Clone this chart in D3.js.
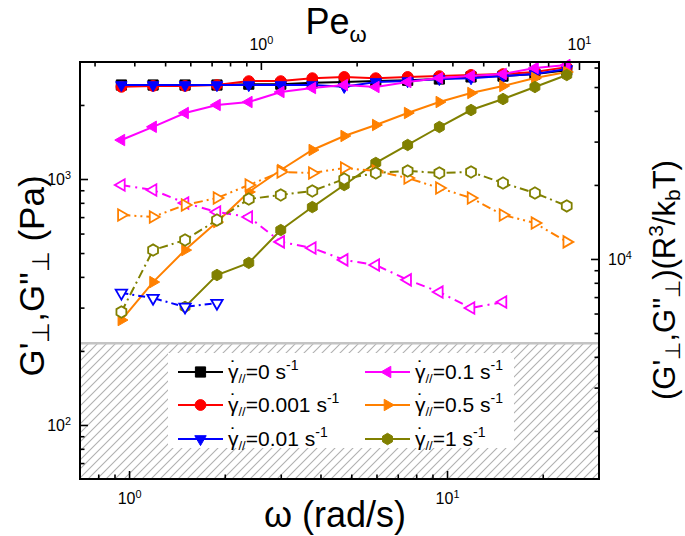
<!DOCTYPE html>
<html><head><meta charset="utf-8">
<script src="https://cdn.jsdelivr.net/npm/d3@7"></script>
<style>body{margin:0;background:#fff} text{font-family:"Liberation Sans",Arial,sans-serif;fill:#000}</style>
</head><body><svg id="c" width="685" height="536"></svg>
<script>
// ---------------- data ----------------
const omega = [0.946,1.19,1.50,1.89,2.38,3.00,3.77,4.75,5.97,7.52,9.46,11.9,15.0,18.9,23.8];
const rates = ["0","0.001","0.01","0.1","0.5","1"];
// storage modulus G' (filled symbols)
const Gp_0     = [2410,2410,2410,2410,2430,2430,2460,2480,2500,2520,2550,2600,2620,2670,2770];
const Gp_0001  = [2370,2390,2390,2410,2500,2500,2570,2600,2570,2600,2620,2650,2670,2720,2850];
const Gp_001   = [2410,2410,2410,2410,2410,2410,2410,2370,2480,2500,2550,2570,2620,2670,2800];
const Gp_01    = [1440,1630,1855,2000,2056,2258,2344,2411,2366,2479,2574,2623,2672,2827,2907];
const Gp_05    = [267,381,514,668,886,1088,1312,1496,1658,1855,2056,2237,2388,2574,2723];
const Gp_1     = [null,null,302,407,456,620,769,945,1162,1375,1627,1907,2114,2366,2647];
// loss modulus G'' (open symbols)
const Gpp_001  = [344,328,302,313,null,null,null,null,null,null,null,null,null,null,null];
const Gpp_01   = [945,902,799,734,701,555,524,469,447,389,347,299,316,null,null];
const Gpp_05   = [714,701,784,837,945,1068,1058,1108,1078,1009,919,837,714,662,555];
const Gpp_1    = [288,514,565,681,829,861,894,1000,1058,1078,1058,1068,963,877,777];
const limitG = 215;
const xMajor = [1,10], yMajor = [100,1000], yRMajor = [10000], peMajor = [1,10];

// ---------------- layout ----------------
const L=80,R=599,T=62,B=479;
const colors = ["#000000","#ff0000","#0000ff","#ff00ff","#ff8000","#808000"];
const shapes = ["square","circle","down","left","right","hex"];

const svg = d3.select("#c");
const x = d3.scaleLog().domain([0.701,30.06]).range([L,R]);
const xTop = d3.scaleLog().domain([0.270,11.56]).range([L,R]);
const y = d3.scaleLog().domain([60.3,2990]).range([B,T]);
const yR = d3.scaleLog().domain([1275,63200]).range([B,T]);

function minors(dom){
  const out=[]; const lo=Math.min(...dom), hi=Math.max(...dom);
  for(let e=Math.floor(Math.log10(lo));e<=Math.ceil(Math.log10(hi));e++)
    for(let k=2;k<=9;k++){const v=k*Math.pow(10,e); if(v>=lo*1.001&&v<=hi*0.999) out.push(v);}
  return out;
}
function markerPath(shape, r){
  const p=d3.path();
  if(shape==="square"){p.rect(-r*0.85,-r*0.85,r*1.7,r*1.7);}
  else if(shape==="circle"){p.arc(0,0,r*0.9,0,2*Math.PI);}
  else if(shape==="hex"){for(let i=0;i<6;i++){const a=Math.PI/6+i*Math.PI/3;const px=r*0.95*Math.cos(a),py=r*0.95*Math.sin(a); i?p.lineTo(px,py):p.moveTo(px,py);} }
  else {
    const ang={down:Math.PI/2,left:Math.PI,right:0}[shape];
    for(let i=0;i<3;i++){const a=ang+i*2*Math.PI/3;const px=r*1.1*Math.cos(a),py=r*1.1*Math.sin(a); i?p.lineTo(px,py):p.moveTo(px,py);}
  }
  p.closePath(); return p.toString();
}

// hatched region
const defs = svg.append("defs");
const pat = defs.append("pattern").attr("id","hatch").attr("patternUnits","userSpaceOnUse").attr("width",9).attr("height",9);
pat.append("path").attr("d","M-1,1 l2,-2 M0,9 l9,-9 M8,10 l2,-2").attr("stroke","#b0b0b0").attr("stroke-width",1.1);
svg.append("rect").attr("x",L).attr("y",y(limitG)).attr("width",R-L).attr("height",B-y(limitG)).attr("fill","url(#hatch)");
svg.append("line").attr("x1",L).attr("x2",R).attr("y1",y(limitG)).attr("y2",y(limitG)).attr("stroke","#c4c4c4").attr("stroke-width",2.5);

// series
const filled = [Gp_0,Gp_0001,Gp_001,Gp_01,Gp_05,Gp_1];
const open = [[Gpp_001,2,"7,4,2,4"],[Gpp_01,3,"9,5,2,5"],[Gpp_05,4,"9,4,2,4,2,4"],[Gpp_1,5,"9,4,2,4"]];
const line = d3.line().defined(d=>d[1]!=null).x(d=>x(d[0])).y(d=>y(d[1]));
const gData = svg.append("g");
filled.forEach((vals,i)=>{
  const pts = omega.map((w,j)=>[w,vals[j]]);
  gData.append("path").attr("d",line(pts)).attr("fill","none").attr("stroke",colors[i]).attr("stroke-width",2);
  gData.selectAll(null).data(pts.filter(d=>d[1]!=null)).join("path")
    .attr("transform",d=>`translate(${x(d[0])},${y(d[1])})`)
    .attr("d",markerPath(shapes[i],6)).attr("fill",colors[i]).attr("stroke",colors[i]).attr("stroke-width",1);
});
open.forEach(([vals,i,dash])=>{
  const pts = omega.map((w,j)=>[w,vals[j]]);
  gData.append("path").attr("d",line(pts)).attr("fill","none").attr("stroke",colors[i]).attr("stroke-width",2).attr("stroke-dasharray",dash);
  gData.selectAll(null).data(pts.filter(d=>d[1]!=null)).join("path")
    .attr("transform",d=>`translate(${x(d[0])},${y(d[1])})`)
    .attr("d",markerPath(shapes[i],6)).attr("fill","#fff").attr("stroke",colors[i]).attr("stroke-width",1.8);
});

// axes
function supLabels(sel, fs){
  sel.selectAll(".tick text").each(function(d){
    const t=d3.select(this); const e=Math.round(Math.log10(d)); t.text(null).attr("font-size",fs);
    t.append("tspan").text("10");
    t.append("tspan").attr("dy","-0.55em").attr("font-size",fs*0.68).text(e);
  });
}
function styleAxis(g){ g.select(".domain").remove(); g.selectAll("line").attr("stroke","#000").attr("stroke-width",1.6); g.selectAll("text").attr("font-family",null).attr("fill","#000"); }

let g;
g = svg.append("g").attr("transform",`translate(0,${B})`).call(d3.axisBottom(x).tickValues(xMajor).tickSize(-8).tickPadding(14)); styleAxis(g); supLabels(g,16);
g = svg.append("g").attr("transform",`translate(0,${B})`).call(d3.axisBottom(x).tickValues(minors(x.domain())).tickSize(-4.5).tickFormat("")); styleAxis(g);
g = svg.append("g").attr("transform",`translate(0,${T})`).call(d3.axisTop(xTop).tickValues(peMajor).tickSize(-8).tickPadding(12)); styleAxis(g); supLabels(g,16);
g = svg.append("g").attr("transform",`translate(0,${T})`).call(d3.axisTop(xTop).tickValues(minors(xTop.domain())).tickSize(-4.5).tickFormat("")); styleAxis(g);
g = svg.append("g").attr("transform",`translate(${L},0)`).call(d3.axisLeft(y).tickValues(yMajor).tickSize(-8).tickPadding(9)); styleAxis(g); supLabels(g,16);
g = svg.append("g").attr("transform",`translate(${L},0)`).call(d3.axisLeft(y).tickValues(minors(y.domain())).tickSize(-4.5).tickFormat("")); styleAxis(g);
g = svg.append("g").attr("transform",`translate(${R},0)`).call(d3.axisRight(yR).tickValues(yRMajor).tickSize(-8).tickPadding(9)); styleAxis(g); supLabels(g,16);
g = svg.append("g").attr("transform",`translate(${R},0)`).call(d3.axisRight(yR).tickValues(minors(yR.domain())).tickSize(-4.5).tickFormat("")); styleAxis(g);

svg.append("rect").attr("x",L).attr("y",T).attr("width",R-L).attr("height",B-T).attr("fill","none").attr("stroke","#000").attr("stroke-width",2);

// legend
const lg = svg.append("g");
lg.append("rect").attr("x",168).attr("y",353).attr("width",346).attr("height",95).attr("fill","#fff");
const rowsY=[372,405,439], colX=[178,365];
rates.forEach((r,i)=>{
  const cx=colX[Math.floor(i/3)], cy=rowsY[i%3];
  lg.append("line").attr("x1",cx).attr("x2",cx+45).attr("y1",cy).attr("y2",cy).attr("stroke",colors[i]).attr("stroke-width",2);
  lg.append("path").attr("transform",`translate(${cx+22.5},${cy})`).attr("d",markerPath(shapes[i],6)).attr("fill",colors[i]).attr("stroke",colors[i]);
  const tx=cx+50, ty=cy+7;
  const t=lg.append("text").attr("x",tx).attr("y",ty).attr("font-size",21);
  t.append("tspan").text("γ");
  t.append("tspan").attr("dy",4).attr("font-size",13).text("//");
  t.append("tspan").attr("dy",-4).text("="+r+" s");
  t.append("tspan").attr("dy",-9).attr("font-size",14).text("-1");
  lg.append("text").attr("x",tx+5.5).attr("y",ty-4).attr("text-anchor","middle").attr("font-size",21).text("˙");
});

// titles
function rich(t, parts){ parts.forEach(p=>{const s=t.append("tspan").text(p[0]); if(p[1]) s.attr("font-size",p[1]); if(p[2]) s.attr("dy",p[2]);}); }
let t = svg.append("text").attr("transform","translate(44,276) rotate(-90)").attr("text-anchor","middle").attr("font-size",35);
rich(t,[["G'"],["⊥",24,5],[",G\"",null,-5],["⊥",24,5],[" (Pa)",null,-5]]);
t = svg.append("text").attr("transform","translate(675,280) rotate(-90)").attr("text-anchor","middle").attr("font-size",31);
rich(t,[["(G'"],["⊥",21,5],[",G\"",null,-5],["⊥",21,5],[")(R",null,-5],["3",21,-12],["/k",null,12],["b",21,5],["T)",null,-5]]);
t = svg.append("text").attr("x",335).attr("y",527).attr("text-anchor","middle").attr("font-size",36);
rich(t,[["ω (rad/s)"]]);
t = svg.append("text").attr("x",336).attr("y",34).attr("text-anchor","middle").attr("font-size",36);
rich(t,[["Pe"],["ω",22,8]]);
</script></body></html>
